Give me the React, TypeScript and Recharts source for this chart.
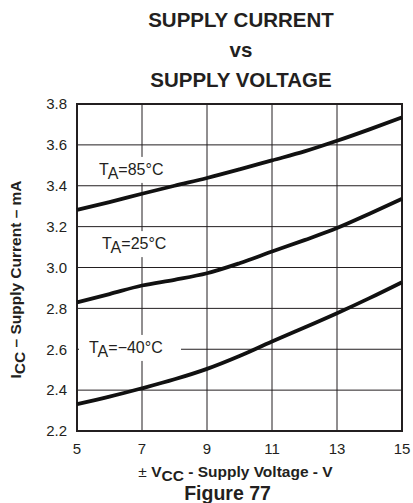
import React from "react";
import {
  LineChart,
  Line,
  XAxis,
  YAxis,
  CartesianGrid,
  ReferenceArea,
  ReferenceDot,
  Customized,
} from "recharts";

const voltage = [5, 6, 7, 8, 9, 10, 11, 12, 13, 14, 15];
const icc85 = [3.282, 3.32, 3.361, 3.4, 3.438, 3.48, 3.524, 3.568, 3.62, 3.676, 3.735];
const icc25 = [2.829, 2.87, 2.912, 2.94, 2.972, 3.021, 3.078, 3.134, 3.193, 3.263, 3.336];
const iccM40 = [2.331, 2.368, 2.409, 2.453, 2.504, 2.567, 2.638, 2.706, 2.776, 2.85, 2.928];

const xTicks = [5, 7, 9, 11, 13, 15];
const yTicks = [2.2, 2.4, 2.6, 2.8, 3.0, 3.2, 3.4, 3.6, 3.8];

const curveLabels = [
  { temp: "=85°C", v: 5.68, i: 3.453, w: 66 },
  { temp: "=25°C", v: 5.77, i: 3.09, w: 66 },
  { temp: "=\u221240°C", v: 5.37, i: 2.582, w: 80 },
];

const titleLines = ["SUPPLY CURRENT", "vs", "SUPPLY VOLTAGE"];

const data = voltage.map((v, k) => ({
  v,
  t85: icc85[k],
  t25: icc25[k],
  tm40: iccM40[k],
}));

const FONT = "'Liberation Sans', Arial, Helvetica, sans-serif";
const INK = "#231f20";

const TempLabel = (text: string, w: number) => (props: any) => {
  const vb = props.viewBox || {};
  const x = vb.x ?? props.x;
  const y = vb.y ?? props.y;
  return (
    <g>
      <rect x={x - 10} y={y - 18} width={w + 22} height={26} fill="#fff" />
      <text x={x} y={y} fontFamily={FONT} fontSize={16} fill={INK}>
        T
        <tspan dy={4}>A</tspan>
        <tspan dy={-4}>{text}</tspan>
      </text>
    </g>
  );
};

const YLabel = (props: any) => {
  const vb = props.viewBox;
  const cx = vb.x + 21;
  const cy = vb.y + vb.height / 2 + 12;
  return (
    <text
      x={cx}
      y={cy}
      transform={`rotate(-90 ${cx} ${cy})`}
      textAnchor="middle"
      fontFamily={FONT}
      fontSize={15.5}
      fontWeight="bold"
      fill={INK}
    >
      I<tspan dy={4}>CC</tspan>
      <tspan dy={-4}>{" \u2013 Supply Current \u2013 mA"}</tspan>
    </text>
  );
};

const XLabel = (props: any) => {
  const vb = props.viewBox;
  const cx = vb.x + vb.width / 2;
  return (
    <g>
      <text
        x={cx - 4}
        y={vb.y + 46}
        textAnchor="middle"
        fontFamily={FONT}
        fontSize={15.5}
        fontWeight="bold"
        fill={INK}
      >
        <tspan fontWeight="normal">±</tspan> V<tspan dy={4}>CC</tspan>
        <tspan dy={-4}>{" - Supply Voltage - V"}</tspan>
      </text>
      <text
        x={cx - 12}
        y={vb.y + 69}
        textAnchor="middle"
        fontFamily={FONT}
        fontSize={19.5}
        fontWeight="bold"
        fill={INK}
      >
        Figure 77
      </text>
    </g>
  );
};

const Title = () => (
  <g>
    {titleLines.map((t, k) => (
      <text
        key={k}
        x={241}
        y={27 + k * 30}
        textAnchor="middle"
        fontFamily={FONT}
        fontSize={20.5}
        fontWeight="bold"
        fill={INK}
      >
        {t}
      </text>
    ))}
  </g>
);

export default function App() {
  return (
    <div style={{ position: "absolute", left: 0, top: 0, background: "#fff" }}>
      <LineChart
        width={413}
        height={503}
        data={data}
        margin={{ top: 104, right: 11, bottom: 0, left: 0 }}
      >
        <CartesianGrid stroke={INK} strokeWidth={1} horizontalValues={yTicks} verticalValues={xTicks} />
        <XAxis
          dataKey="v"
          type="number"
          domain={[5, 15]}
          ticks={xTicks}
          axisLine={false}
          tickLine={false}
          tickSize={0}
          tickMargin={12}
          height={72}
          tick={{ fontFamily: FONT, fontSize: 15, fill: INK }}
          label={<XLabel />}
          interval={0}
        />
        <YAxis
          type="number"
          domain={[2.2, 3.8]}
          ticks={yTicks}
          axisLine={false}
          tickLine={false}
          tickSize={0}
          tickMargin={10}
          width={77}
          tickFormatter={(t: number) => t.toFixed(1)}
          tick={{ fontFamily: FONT, fontSize: 15, fill: INK }}
          label={<YLabel />}
          interval={0}
        />
        {curveLabels.map((c, k) => (
          <ReferenceDot
            key={k}
            x={c.v}
            y={c.i}
            r={0}
            fill="none"
            stroke="none"
            label={TempLabel(c.temp, c.w)}
          />
        ))}
        <Line type="monotone" dataKey="t85" stroke="#111" strokeWidth={3.8} dot={false} isAnimationActive={false} />
        <Line type="monotone" dataKey="t25" stroke="#111" strokeWidth={3.8} dot={false} isAnimationActive={false} />
        <Line type="monotone" dataKey="tm40" stroke="#111" strokeWidth={3.8} dot={false} isAnimationActive={false} />
        <ReferenceArea x1={5} x2={15} y1={2.2} y2={3.8} fill="none" stroke={INK} strokeWidth={2} />
        <Customized component={Title} />
      </LineChart>
    </div>
  );
}
